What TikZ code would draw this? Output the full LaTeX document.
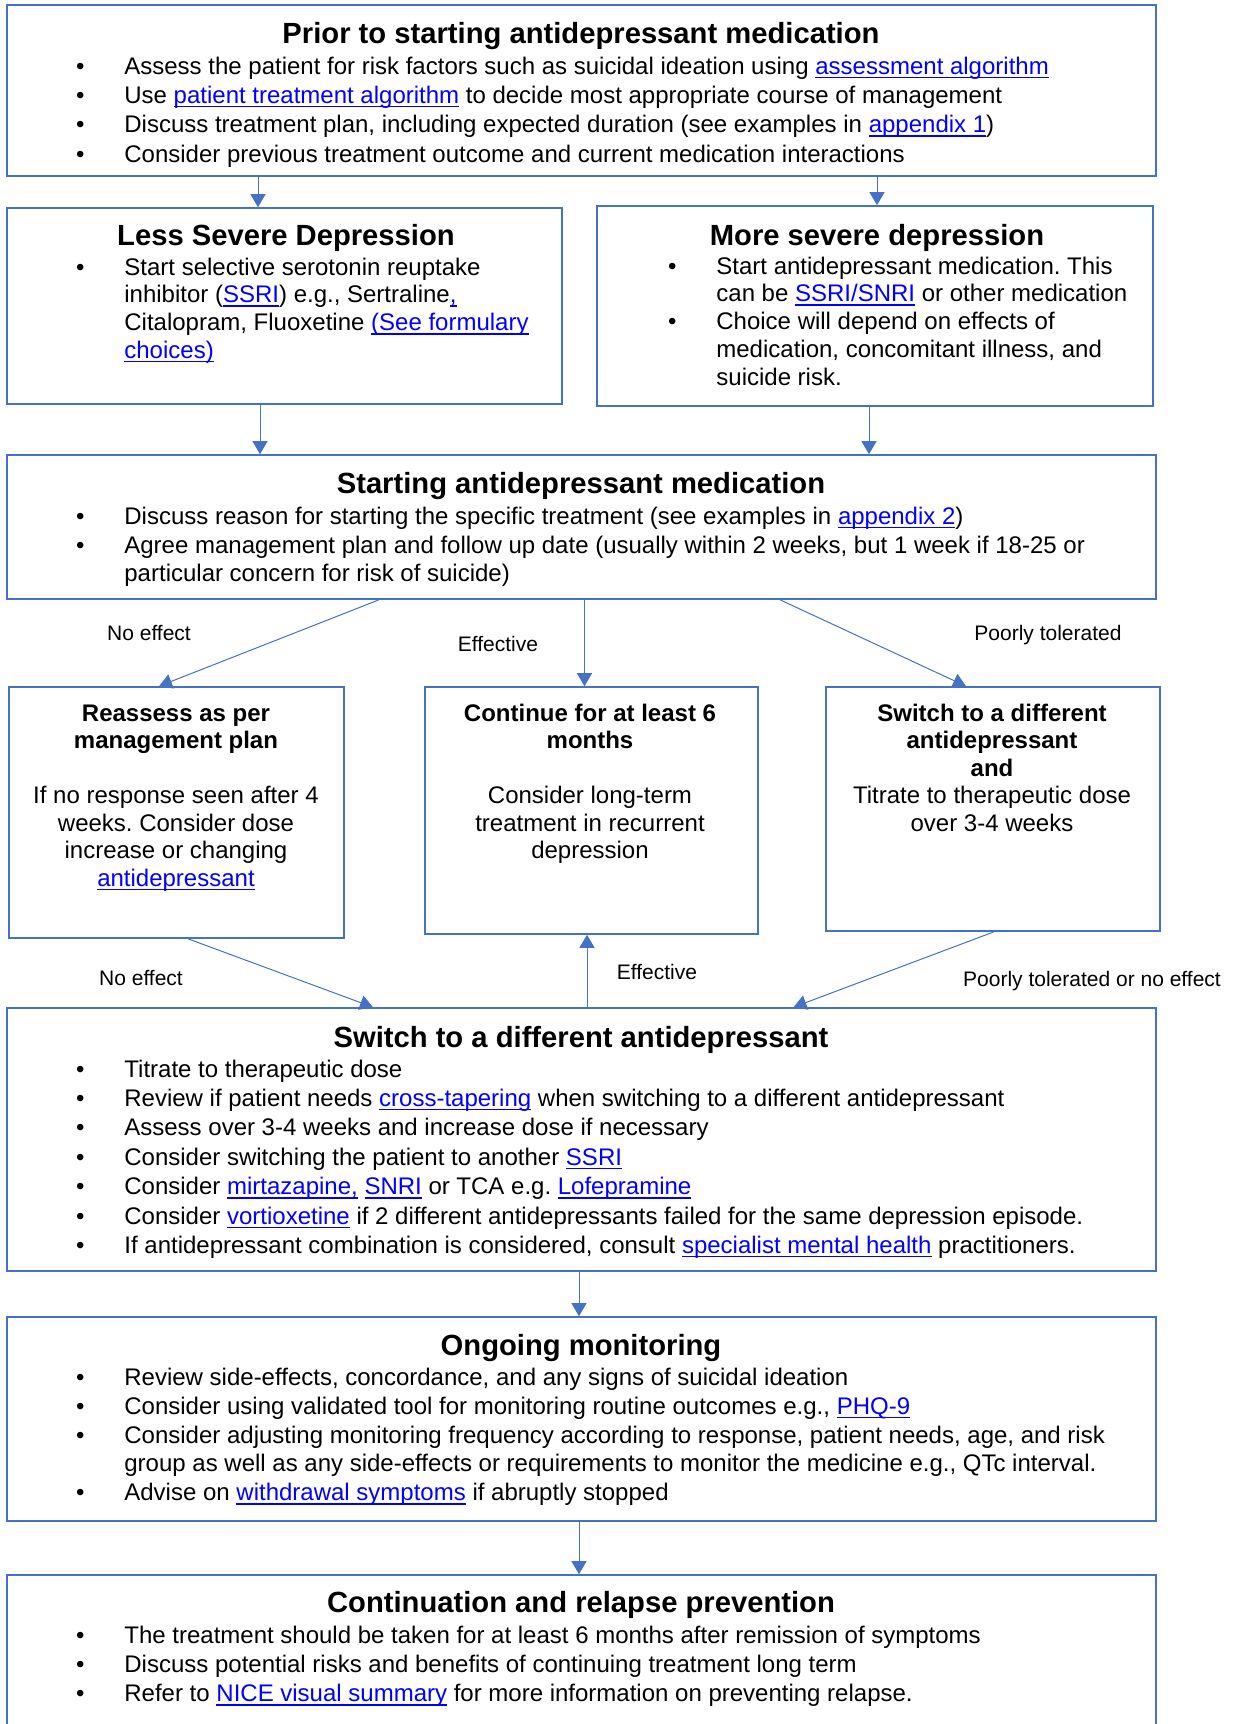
\documentclass[tikz,border=0pt]{standalone}
\usepackage{fontspec}
\setmainfont{Liberation Sans}
\usetikzlibrary{arrows.meta,fit}
\frenchspacing
\definecolor{bx}{HTML}{4472C4}
\definecolor{lk}{HTML}{0000FF}
\newcommand\lk[1]{\leavevmode{\color{lk}\setbox0\hbox{#1}\rlap{\rule[-2pt]{\wd0}{0.75pt}}\box0}}
\newcommand\fbul{\noindent\llap{\makebox[0pt]{\textbullet}\hspace{22pt}}}
\newcommand\bul{\par\fbul}
\newcommand\bigbody{\fontsize{12pt}{13.8pt}\selectfont\raggedright\parskip=0.9pt\relax}
\newcommand\midbody{\fontsize{12pt}{13.9pt}\selectfont\raggedright\parskip=0pt\relax}
\newcommand\smbody{\fontsize{12pt}{13.75pt}\selectfont\centering}
\tikzset{
  box/.style={draw=bx, line width=0.8pt, inner sep=0pt, rectangle},
  arr/.style={draw=bx, line width=0.5pt, -{Triangle[length=6.5pt,width=7.5pt]}},
  ttl/.style={inner sep=0pt, anchor=base, font=\bfseries\fontsize{14.6pt}{17pt}\selectfont},
  body/.style={inner sep=0pt, anchor=base west, text width=515pt},
  sbody/.style={inner sep=0pt, anchor=base, text width=165pt},
  lbl/.style={inner sep=0pt, anchor=base, font=\fontsize{10.5pt}{12pt}\selectfont},
}
\begin{document}
\begin{tikzpicture}[x=0.5pt,y=-0.5pt]
\useasboundingbox (0,0) rectangle (1233,1724);
\clip (0,0) rectangle (1233,1724);
% boxes
\node[box, fit={(7,5) (1156,176)}] (b1) {};
\node[box, fit={(7,208) (562,404)}] (less) {};
\node[box, fit={(597,206) (1153,406)}] (more) {};
\node[box, fit={(7,455) (1156,599)}] (start) {};
\node[box, fit={(9,687) (344,938)}] (reas) {};
\node[box, fit={(425,687) (758,934)}] (cont) {};
\node[box, fit={(826,687) (1160,931)}] (sw) {};
\node[box, fit={(7,1008) (1156,1271)}] (big) {};
\node[box, fit={(7,1317) (1156,1521)}] (ong) {};
\node[box, fit={(7,1575) (1156,1790)}] (rel) {};

% box 1
\node[ttl] (t1) at (581,43) {Prior to starting antidepressant medication};
\node[body] (x1) at (124,74) {\bigbody
\fbul Assess the patient for risk factors such as suicidal ideation using \lk{assessment algorithm}
\bul Use \lk{patient treatment algorithm} to decide most appropriate course of management
\bul Discuss treatment plan, including expected duration (see examples in \lk{appendix 1})
\bul Consider previous treatment outcome and current medication interactions\par};

% less severe
\node[ttl] (tless) at (286,245) {Less Severe Depression};
\node[body] (xless) at (124,275) {\midbody
\fbul Start selective serotonin reuptake\newline inhibitor (\lk{SSRI}) e.g., Sertraline\lk{,}\newline Citalopram, Fluoxetine \lk{(See formulary}\newline \lk{choices)}\par};

% more severe
\node[ttl] (tmore) at (877,245) {More severe depression};
\node[body] (xmore) at (716,274) {\midbody
\fbul Start antidepressant medication. This\newline can be \lk{SSRI/SNRI} or other medication
\bul Choice will depend on effects of\newline medication, concomitant illness, and\newline suicide risk.\par};

% starting
\node[ttl] (tstart) at (581,493) {Starting antidepressant medication};
\node[body] (xstart) at (124,524) {\bigbody
\fbul Discuss reason for starting the specific treatment (see examples in \lk{appendix 2})
\bul Agree management plan and follow up date (usually within 2 weeks, but 1 week if 18-25 or\newline particular concern for risk of suicide)\par};

% small boxes
\node[sbody] (xreas) at (176,721) {\smbody
\textbf{Reassess as per}\\ \textbf{management plan}\\[13.75pt]
If no response seen after 4\\ weeks. Consider dose\\ increase or changing\\ \lk{antidepressant}\par};
\node[sbody] (xcont) at (590,721) {\smbody
\textbf{Continue for at least 6}\\ \textbf{months}\\[13.75pt]
Consider long-term\\ treatment in recurrent\\ depression\par};
\node[sbody] (xsw) at (992,721) {\smbody
\textbf{Switch to a different}\\ \textbf{antidepressant}\\ \textbf{and}\\
Titrate to therapeutic dose\\ over 3-4 weeks\par};

% big switch
\node[ttl] (tbig) at (581,1047) {Switch to a different antidepressant};
\node[body] (xbig) at (124,1077) {\bigbody
\fbul Titrate to therapeutic dose
\bul Review if patient needs \lk{cross-tapering} when switching to a different antidepressant
\bul Assess over 3-4 weeks and increase dose if necessary
\bul Consider switching the patient to another \lk{SSRI}
\bul Consider \lk{mirtazapine,} \lk{SNRI} or TCA e.g. \lk{Lofepramine}
\bul Consider \lk{vortioxetine} if 2 different antidepressants failed for the same depression episode.
\bul If antidepressant combination is considered, consult \lk{specialist mental health} practitioners.\par};

% ongoing
\node[ttl] (tong) at (581,1355) {Ongoing monitoring};
\node[body] (xong) at (124,1385) {\bigbody
\fbul Review side-effects, concordance, and any signs of suicidal ideation
\bul Consider using validated tool for monitoring routine outcomes e.g., \lk{PHQ-9}
\bul Consider adjusting monitoring frequency according to response, patient needs, age, and risk\newline group as well as any side-effects or requirements to monitor the medicine e.g., QTc interval.
\bul Advise on \lk{withdrawal symptoms} if abruptly stopped\par};

% continuation
\node[ttl] (trel) at (581,1612) {Continuation and relapse prevention};
\node[body] (xrel) at (124,1643) {\bigbody
\fbul The treatment should be taken for at least 6 months after remission of symptoms
\bul Discuss potential risks and benefits of continuing treatment long term
\bul Refer to \lk{NICE visual summary} for more information on preventing relapse.\par};

% labels
\node[lbl] (l1) at (149,640) {No effect};
\node[lbl] (l2) at (498,651) {Effective};
\node[lbl] (l3) at (1048,640) {Poorly tolerated};
\node[lbl] (l4) at (141,985.5) {No effect};
\node[lbl] (l5) at (657,979.5) {Effective};
\node[lbl] (l6) at (1092,986) {Poorly tolerated or no effect};

% connector x positions
\coordinate (xa) at (258,0);
\coordinate (xb) at (877,0);
\coordinate (xc) at (260,0);
\coordinate (xd) at (869,0);
\coordinate (xe1) at (379,0);
\coordinate (xe2) at (159,0);
\coordinate (xf) at (584.5,0);
\coordinate (xg1) at (780,0);
\coordinate (xg2) at (966,0);
\coordinate (xh1) at (188,0);
\coordinate (xh2) at (373,0);
\coordinate (xi) at (587,0);
\coordinate (xj1) at (994,0);
\coordinate (xj2) at (793.5,0);
\coordinate (xk) at (579,0);

\draw[arr] (xa |- b1.south) -- (xa |- less.north);
\draw[arr] (xb |- b1.south) -- (xb |- more.north);
\draw[arr] (xc |- less.south) -- (xc |- start.north);
\draw[arr] (xd |- more.south) -- (xd |- start.north);
\draw[arr] (xe1 |- start.south) -- (xe2 |- reas.north);
\draw[arr] (xf |- start.south) -- (xf |- cont.north);
\draw[arr] (xg1 |- start.south) -- (xg2 |- sw.north);
\draw[arr] (xh1 |- reas.south) -- (xh2 |- big.north);
\draw[arr] (xi |- big.north) -- (xi |- cont.south);
\draw[arr] (xj1 |- sw.south) -- (xj2 |- big.north);
\draw[arr] (xk |- big.south) -- (xk |- ong.north);
\draw[arr] (xk |- ong.south) -- (xk |- rel.north);
\end{tikzpicture}
\end{document}
